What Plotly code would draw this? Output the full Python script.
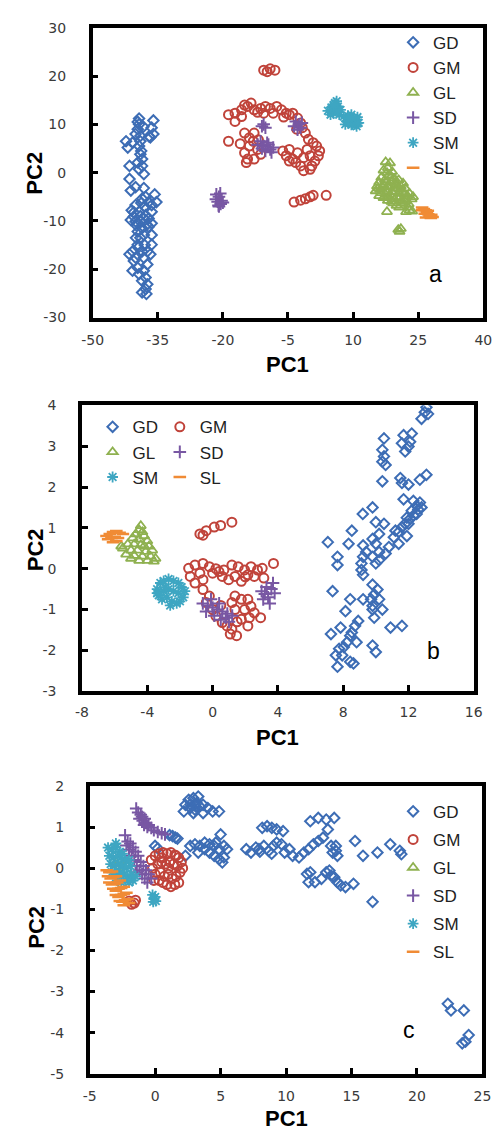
import plotly.graph_objects as go

# ---------------- data (PC1, PC2) ----------------
SERIES = ["GD", "GM", "GL", "SD", "SM", "SL"]
COLORS = {"GD": "#3d6db5", "GM": "#c0433a", "GL": "#8fb150", "SD": "#7857a3", "SM": "#3ea6c2", "SL": "#f08b35"}
SYMBOLS = {"GD": "diamond-open", "GM": "circle-open", "GL": "triangle-up-open",
           "SD": "cross-thin-open", "SM": "asterisk-open", "SL": "line-ew-open"}

A_GD = [(-39.3, 11.2), (-39.6, 10.5), (-36.0, 10.8), (-36.4, 9.3), (-36.0, 8.0), (-36.7, 7.3), (-39.6, 9.0),
        (-40.1, 8.0), (-39.0, 7.6), (-42.3, 6.5), (-41.9, 5.2), (-40.8, 6.2), (-39.3, 5.5), (-39.0, 3.8),
        (-38.6, 2.8), (-39.6, 2.1), (-38.6, 1.4), (-39.3, 0.7), (-38.2, -0.3), (-41.5, 1.4), (-41.5, -1.3),
        (-41.2, -3.7), (-40.1, -3.0), (-38.2, -3.2), (-37.8, -5.0), (-38.6, -5.4), (-37.1, -6.1), (-36.4, -6.7),
        (-35.3, -6.1), (-40.1, -6.7), (-39.3, -8.1), (-40.5, -9.1), (-41.2, -9.8), (-40.1, -10.1), (-39.0, -10.1),
        (-38.2, -9.5), (-37.1, -9.5), (-36.4, -8.1), (-37.8, -8.8), (-36.4, -10.5), (-37.1, -11.2), (-38.6, -11.5),
        (-39.6, -12.2), (-38.2, -12.9), (-36.4, -12.9), (-36.4, -14.9), (-39.0, -13.5), (-39.6, -14.9),
        (-38.6, -16.3), (-40.8, -16.3), (-41.5, -16.9), (-40.5, -18.3), (-39.6, -19.7), (-40.8, -20.3),
        (-39.3, -21.0), (-38.2, -20.3), (-37.4, -19.0), (-38.6, -22.4), (-37.8, -21.7), (-37.4, -23.1),
        (-37.8, -24.1), (-38.6, -24.8), (-37.6, -25.1), (-38.2, -17.6), (-40.1, -17.6), (-36.7, -16.9),
        (-37.4, -16.3), (-39.0, -9.0), (-38.0, -7.0), (-40.5, -8.2), (-37.5, -10.8), (-39.8, -11.0), (-38.8, -6.3),
        (-39.5, -15.5), (-38.0, -15.0), (-40.0, -13.5), (-38.8, 4.5), (-39.0, 6.5), (-38.3, 9.5), (-35.7, -4.5),
        (-41.0, -7.8), (-39.3, 10.0), (-37.0, 7.5)]
A_GM = [(-10.6, 21.2), (-9.1, 21.5), (-8.0, 21.2), (-9.8, 20.9),
        (-18.7, 12.0), (-17.2, 12.3), (-15.7, 13.0), (-14.3, 13.7), (-13.5, 14.4), (-15.0, 14.0), (-12.8, 13.0),
        (-11.3, 13.3), (-10.2, 13.7), (-9.1, 13.3), (-7.6, 13.7), (-6.5, 13.0), (-5.4, 12.3), (-4.7, 12.0),
        (-3.9, 12.3), (-2.8, 11.3), (-2.1, 10.3), (-1.7, 9.3), (-1.0, 8.2), (-0.3, 6.9), (0.8, 6.2), (1.6, 5.5),
        (2.3, 4.5), (2.0, 3.5), (1.2, 2.4), (0.5, 1.4), (0.1, 0.7), (-1.4, 0.4), (-2.1, 1.4), (-3.2, 2.1),
        (-3.9, 2.8), (-4.7, 2.4), (-5.4, 3.5), (-6.2, 4.5), (-4.7, 4.8), (-2.8, 4.1), (-0.6, 4.8), (0.1, 3.5),
        (-1.4, 3.1), (-17.2, 10.6), (-15.7, 11.6), (-10.6, 12.3), (-8.4, 12.3), (-12.0, 12.5), (-6.0, 11.5),
        (-3.0, 9.0), (-18.7, 6.5), (-15.0, 8.2), (-13.9, 7.2), (-12.8, 8.2), (-13.9, 5.5), (-15.0, 4.1),
        (-14.3, 2.8), (-14.6, 2.1), (-12.0, 4.8), (-11.3, 3.8), (-10.6, 5.5), (-12.8, 2.8), (-16.0, 6.0),
        (-13.0, 6.5), (-11.8, 6.8), (-3.6, -6.1), (-2.1, -5.7), (-1.0, -5.4), (0.1, -5.0), (0.8, -4.7), (3.8, -4.7)]
A_GL = [(17.5, 2.2), (18.5, 2.0), (18.0, 1.0), (17.0, 0.5), (19.0, 0.2), (18.2, -0.5), (16.5, -1.0), (19.5, -1.2),
        (20.5, -1.5), (17.5, -2.0), (15.5, -2.8), (16.8, -3.0), (18.5, -2.8), (19.8, -2.5), (21.0, -2.8),
        (22.0, -3.2), (15.2, -3.8), (16.5, -4.2), (17.8, -3.8), (19.0, -4.0), (20.5, -4.2), (21.8, -4.5),
        (23.0, -4.3), (18.2, -5.0), (19.5, -5.5), (20.8, -5.2), (22.2, -5.6), (23.5, -5.5), (17.0, -5.2),
        (21.5, -6.3), (20.0, -6.8), (22.8, -6.5), (17.8, -8.1), (22.2, -8.1), (23.0, -7.8), (20.7, -12.2),
        (20.4, -11.8), (21.0, -11.6), (18.8, -1.8), (17.3, -1.5), (20.2, -3.3), (18.8, -6.0),
        (16.0, -2.0), (17.0, -2.5), (18.0, -3.0), (19.3, -3.2), (20.8, -3.5), (21.5, -4.0), (22.5, -4.8),
        (16.2, -3.5), (17.5, -4.5), (18.8, -4.8), (20.0, -5.0), (21.2, -5.8), (22.0, -6.0), (19.2, -6.3),
        (18.0, -5.8), (16.0, -4.8), (23.8, -5.0), (17.8, 0.0), (18.8, -0.8), (19.8, -2.0), (21.5, -2.2),
        (15.8, -3.2), (20.6, -7.2), (23.6, -8.0), (22.6, -7.2)]
A_SD = [(-21.5, -4.5), (-20.9, -5.0), (-21.2, -6.0), (-20.5, -6.5), (-20.9, -7.0), (-21.6, -5.5), (-20.3, -5.8),
        (-20.6, -4.3), (-21.0, -6.8), (-20.0, -6.2), (-10.6, 10.0), (-10.2, 9.3), (-11.0, 9.6), (-11.3, 6.5),
        (-10.6, 5.5), (-9.8, 6.2), (-9.1, 4.8), (-8.4, 5.2), (-10.2, 4.5), (-11.0, 5.0), (-9.5, 5.8), (-8.8, 4.2),
        (-12.0, 5.8), (-3.2, 10.6), (-2.5, 10.0), (-2.1, 9.3), (-3.6, 9.6), (-2.8, 8.9), (-1.8, 10.3)]
A_SM = [(4.2, 12.8), (5.0, 13.5), (5.8, 14.4), (6.5, 13.7), (5.5, 12.3), (6.8, 12.0), (4.8, 12.0), (5.8, 13.0),
        (7.1, 13.0), (6.2, 14.8), (7.8, 11.6), (8.5, 10.6), (9.3, 11.3), (10.0, 10.6), (10.8, 11.0), (11.3, 10.3),
        (9.6, 9.9), (10.8, 9.6), (8.8, 11.8), (8.2, 10.0), (9.6, 12.0), (11.0, 11.5),
        (5.2, 13.0), (6.0, 13.5), (6.5, 12.8), (5.5, 14.0), (9.0, 10.5), (10.2, 11.2), (9.8, 10.0), (10.4, 10.0),
        (11.0, 10.2), (9.0, 11.2)]
A_SL = [(25.9, -7.2), (26.3, -7.5), (26.7, -7.8), (27.0, -8.2), (27.3, -8.6), (27.6, -9.0), (27.9, -9.4),
        (28.3, -9.2), (26.5, -8.5), (27.2, -7.9), (25.9, -7.8), (26.8, -9.3), (28.0, -8.7)]

B_GD = [(13.1, 3.95), (13.2, 3.79), (12.8, 3.67), (13.0, 3.83), (10.5, 3.19), (10.4, 2.91), (10.5, 2.75),
        (10.4, 2.62), (10.6, 2.54), (11.7, 3.27), (12.2, 3.31), (11.6, 3.07), (12.0, 2.99), (11.8, 2.87),
        (12.1, 3.11), (10.4, 2.14), (11.5, 2.22), (11.6, 2.10), (12.0, 2.06), (12.7, 2.18), (13.1, 2.30),
        (11.7, 1.70), (12.3, 1.66), (12.7, 1.62), (12.5, 1.54), (12.2, 1.42), (12.5, 1.34), (12.1, 1.22),
        (12.8, 1.50), (11.8, 1.10), (11.6, 1.02), (11.2, 0.93), (11.1, 0.77), (11.4, 0.61), (10.8, 0.53),
        (10.2, 0.41), (10.0, 0.61), (9.8, 0.73), (9.8, 1.50), (9.2, 1.34), (10.0, 1.14), (10.5, 1.10), (10.2, 0.85),
        (8.53, 0.93), (9.22, 0.57), (9.41, 0.41), (9.80, 0.29), (10.2, 0.21), (10.6, 0.37), (10.0, 0.13),
        (9.22, 0.29), (9.12, 0.13), (9.12, -0.03), (9.22, -0.15), (9.80, -0.39), (10.1, -0.51), (9.90, -0.63),
        (10.2, -0.75), (9.80, -0.91), (9.71, -0.75), (7.06, 0.65), (7.65, 0.29), (7.65, 0.09), (8.33, 0.61),
        (7.35, -0.55), (8.43, -0.75), (8.14, -1.04), (9.22, -0.75), (9.80, -1.00), (10.4, -1.00), (10.9, -1.44),
        (11.6, -1.40), (9.90, -1.20), (9.80, -1.88), (10.0, -2.04), (8.92, -1.28), (8.73, -1.40), (8.53, -1.56),
        (8.43, -1.64), (8.24, -1.80), (7.75, -1.96), (8.04, -1.92), (7.55, -2.12), (7.65, -2.40), (8.43, -2.28),
        (8.63, -2.32), (7.25, -1.60), (7.84, -1.44), (8.82, -1.80), (7.94, -2.12), (12.3, 1.3), (12.0, 1.1),
        (11.9, 1.25), (12.6, 1.45), (11.4, 0.9), (11.9, 0.8)]
B_GM = [(-0.78, 0.85), (-0.59, 0.82), (-0.39, 0.93), (0.10, 1.02), (0.49, 1.06), (1.18, 1.14),
        (-1.47, 0.01), (-1.08, 0.09), (-0.59, 0.13), (-0.20, 0.05), (-1.37, -0.19), (-0.78, -0.11), (0.0, -0.11),
        (0.39, -0.07), (0.69, -0.03), (1.18, 0.09), (1.57, 0.05), (1.96, -0.03), (2.35, 0.05), (2.75, -0.03),
        (3.04, 0.01), (3.73, 0.13), (0.59, -0.19), (1.37, -0.19), (2.16, -0.15), (2.55, -0.19), (3.14, -0.23),
        (-1.08, -0.35), (-0.59, -0.27), (0.98, -0.27), (1.76, -0.31), (0.2, 0.0), (2.0, -0.2),
        (-0.59, -0.51), (-0.20, -0.67), (-0.39, -0.83), (0.0, -1.00), (0.20, -1.16), (0.59, -1.32), (0.88, -1.40),
        (1.18, -1.48), (1.47, -1.64), (1.08, -1.60), (1.76, -1.24), (1.37, -1.00), (1.18, -0.83), (1.76, -0.75),
        (2.16, -0.75), (2.35, -0.92), (2.55, -1.08), (1.96, -1.00), (2.25, -1.20), (2.94, -1.20), (2.16, -1.40),
        (1.37, -0.67), (0.5, -0.9), (1.5, -1.3)]
B_GL = [(-4.4, 1.05), (-4.5, 0.95), (-4.3, 0.9), (-4.7, 0.85), (-4.2, 0.8), (-4.9, 0.75), (-4.5, 0.72), (-4.0, 0.68),
        (-5.2, 0.6), (-4.8, 0.6), (-4.4, 0.58), (-3.9, 0.55), (-5.5, 0.5), (-5.0, 0.45), (-4.6, 0.45), (-4.1, 0.42),
        (-3.7, 0.45), (-5.3, 0.35), (-4.8, 0.32), (-4.3, 0.3), (-3.8, 0.3), (-3.5, 0.25), (-5.0, 0.25), (-4.5, 0.2),
        (-4.0, 0.2), (-3.6, 0.18), (-5.6, 0.55), (-4.2, 0.55)]
B_SD = [(-0.6, -0.85), (-0.3, -0.9), (0.0, -0.95), (0.3, -1.0), (0.6, -1.05), (0.9, -1.1), (1.2, -1.15),
        (-0.4, -1.05), (0.1, -1.15), (0.5, -1.25), (0.8, -1.2), (-0.1, -0.75), (0.4, -0.85), (1.0, -1.3),
        (3.0, -0.55), (3.3, -0.45), (3.6, -0.5), (3.8, -0.6), (3.4, -0.7), (3.1, -0.75), (3.5, -0.85), (3.7, -0.35),
        (3.2, -0.62)]
B_SM = [(-3.4, -0.5), (-3.2, -0.35), (-3.0, -0.3), (-2.7, -0.25), (-2.4, -0.3), (-2.1, -0.35), (-1.9, -0.45),
        (-1.7, -0.55), (-3.3, -0.65), (-3.0, -0.55), (-2.7, -0.5), (-2.4, -0.55), (-2.1, -0.6), (-1.8, -0.7),
        (-3.1, -0.75), (-2.8, -0.7), (-2.5, -0.8), (-2.2, -0.85), (-2.6, -0.9), (-2.0, -0.8), (-3.4, -0.6),
        (-2.9, -0.45)]
B_SL = [(-6.5, 0.8), (-6.3, 0.85), (-6.1, 0.9), (-5.9, 0.92), (-5.7, 0.88), (-5.5, 0.85), (-6.4, 0.72), (-6.2, 0.75),
        (-6.0, 0.78), (-5.8, 0.75), (-6.1, 0.65), (-5.9, 0.68)]

C_GD = [(2.56, 1.66), (2.92, 1.70), (3.17, 1.58), (2.68, 1.46), (2.31, 1.54), (3.04, 1.42), (3.41, 1.50), (3.66, 1.54),
        (4.02, 1.46), (4.39, 1.38), (4.88, 1.38), (2.19, 1.38), (3.29, 1.74), (2.92, 1.34), (3.66, 1.34), (2.7, 1.55),
        (3.1, 1.5), (1.1, 0.8), (1.33, 0.78), (1.55, 0.74), (1.7, 0.72), (5.0, 0.82), (-0.01, 0.54), (0.2, 0.48),
        (2.31, 0.30), (2.68, 0.54), (3.04, 0.58), (3.41, 0.54), (3.78, 0.62), (4.15, 0.58), (4.51, 0.54), (4.88, 0.46),
        (5.25, 0.54), (5.49, 0.46), (4.15, 0.38), (4.51, 0.30), (4.88, 0.22), (5.13, 0.14), (5.25, 0.26), (3.29, 0.38),
        (3.78, 0.46), (4.63, 0.62), (6.96, 0.46), (7.32, 0.38), (7.69, 0.50), (7.93, 0.46), (8.30, 0.54), (8.67, 0.42),
        (9.03, 0.54), (9.28, 0.62), (9.65, 0.58), (9.89, 0.38), (10.26, 0.46), (10.50, 0.30), (10.99, 0.26),
        (11.36, 0.38), (11.72, 0.46), (12.09, 0.58), (12.46, 0.66), (12.82, 0.74), (13.44, 0.54), (13.56, 0.38),
        (13.80, 0.42), (13.92, 0.30), (13.80, 0.54), (8.0, 0.4), (8.9, 0.35), (8.18, 0.98), (8.55, 1.02),
        (8.91, 0.98), (9.28, 0.94), (9.77, 0.90), (11.85, 1.14), (12.46, 1.22), (13.07, 1.18), (13.68, 1.22),
        (13.19, 0.94), (11.6, -0.14), (11.72, -0.34), (12.21, -0.34), (12.70, -0.26), (13.07, -0.10), (13.31, -0.06),
        (13.44, -0.18), (13.68, -0.22), (13.92, -0.34), (14.17, -0.42), (14.54, -0.46), (15.15, -0.38),
        (11.85, -0.10), (15.27, 0.66), (15.88, 0.30), (16.98, 0.38), (17.96, 0.58), (18.69, 0.42), (18.81, 0.34),
        (16.61, -0.82), (22.36, -3.30), (22.6, -3.46), (23.58, -3.46), (23.95, -4.06), (23.46, -4.26), (23.7, -4.22)]
C_GM = [(-0.3, 0.2), (0.0, 0.3), (0.3, 0.35), (0.6, 0.38), (0.9, 0.35), (1.2, 0.38), (1.5, 0.32), (1.8, 0.25),
        (2.0, 0.15), (-0.2, 0.0), (0.2, 0.1), (0.5, 0.15), (0.8, 0.1), (1.1, 0.15), (1.4, 0.1), (1.7, 0.05), (2.1, 0.0),
        (0.0, -0.15), (0.4, -0.1), (0.7, -0.2), (1.0, -0.15), (1.3, -0.25), (1.6, -0.2), (1.9, -0.1), (0.3, -0.3),
        (0.6, -0.35), (0.9, -0.4), (1.2, -0.45), (1.5, -0.4), (1.8, -0.35), (-0.1, -0.3), (1.0, 0.0), (0.5, 0.25),
        (1.6, 0.3), (-2.0, -0.8), (-1.8, -0.88), (-1.6, -0.85), (-1.5, -0.78)]
C_GL = [(-3.0, 0.0), (-2.6, -0.1), (-2.2, 0.1), (-2.8, 0.2)]
C_SD = [(-1.45, 1.45), (-1.3, 1.35), (-1.1, 1.3), (-1.2, 1.2), (-0.95, 1.15), (-0.8, 1.2), (-0.7, 1.1), (-0.5, 1.05),
        (-0.85, 1.05), (-0.3, 0.98), (-0.1, 0.92), (0.2, 0.88), (0.5, 0.85), (0.75, 0.82), (-1.0, 1.25), (-0.6, 1.0),
        (-2.3, 0.8), (-2.1, 0.65), (-1.9, 0.6), (-1.7, 0.5), (-2.0, 0.45), (-1.5, 0.4), (-1.8, 0.3), (-1.3, 0.3),
        (-1.6, 0.2), (-1.1, 0.15), (-1.4, 0.05), (-0.9, 0.05), (-1.2, -0.05), (-0.7, -0.05), (-1.0, -0.15),
        (-0.5, -0.15), (-0.8, -0.25), (-0.3, -0.25), (-0.6, -0.35), (-1.5, -0.1), (-2.2, 0.55)]
C_SM = [(-3.6, 0.5), (-3.3, 0.45), (-3.0, 0.5), (-2.7, 0.4), (-3.5, 0.3), (-3.2, 0.25), (-2.9, 0.3), (-2.6, 0.25),
        (-2.3, 0.2), (-3.4, 0.1), (-3.1, 0.05), (-2.8, 0.1), (-2.5, 0.05), (-2.2, 0.0), (-1.9, 0.05), (-3.3, -0.1),
        (-3.0, -0.15), (-2.7, -0.1), (-2.4, -0.15), (-2.1, -0.2), (-1.8, -0.15), (-2.9, -0.3), (-2.6, -0.35),
        (-2.3, -0.3), (-2.0, -0.35), (-1.7, -0.3), (-1.5, -0.2), (-2.5, 0.35), (-3.0, 0.6), (-2.0, 0.2),
        (-0.2, -0.65), (-0.1, -0.75), (0.0, -0.7), (-0.15, -0.82), (0.05, -0.8)]
C_SL = [(-3.7, -0.05), (-3.5, -0.1), (-3.3, -0.08), (-3.6, -0.2), (-3.4, -0.25), (-3.2, -0.22), (-3.0, -0.2),
        (-3.5, -0.35), (-3.3, -0.4), (-3.1, -0.38), (-2.9, -0.35), (-2.7, -0.3), (-3.2, -0.5), (-3.0, -0.55),
        (-2.8, -0.5), (-2.6, -0.48), (-2.4, -0.45), (-3.0, -0.65), (-2.8, -0.7), (-2.6, -0.65), (-2.4, -0.62),
        (-2.2, -0.6), (-2.7, -0.8), (-2.5, -0.82), (-2.3, -0.78), (-2.1, -0.75), (-2.0, -0.85), (-2.4, -0.9)]

# tick labels
A_XTICKS = [-50, -35, -20, -5, 10, 25, 40]
A_YTICKS = [-30, -20, -10, 0, 10, 20, 30]
B_XTICKS = [-8, -4, 0, 4, 8, 12, 16]
B_YTICKS = [-3, -2, -1, 0, 1, 2, 3, 4]
C_XTICKS = [-5, 0, 5, 10, 15, 20, 25]
C_YTICKS = [-5, -4, -3, -2, -1, 0, 1, 2]

PANELS = [
    dict(data=dict(GD=A_GD, GM=A_GM, GL=A_GL, SD=A_SD, SM=A_SM, SL=A_SL), xr=[-50, 40], yr=[-30, 30],
         xt=A_XTICKS, yt=A_YTICKS, label="a"),
    dict(data=dict(GD=B_GD, GM=B_GM, GL=B_GL, SD=B_SD, SM=B_SM, SL=B_SL), xr=[-8, 16], yr=[-3, 4],
         xt=B_XTICKS, yt=B_YTICKS, label="b"),
    dict(data=dict(GD=C_GD, GM=C_GM, GL=C_GL, SD=C_SD, SM=C_SM, SL=C_SL), xr=[-5, 25], yr=[-5, 2],
         xt=C_XTICKS, yt=C_YTICKS, label="c"),
]

# ---------------- layout geometry (pixels) ----------------
W, H = 501, 1136
BOXES = [(85, 492, 20, 314), (74, 482, 403, 693), (82, 491, 789, 1081)]  # left, right, top, bottom
X_STANDOFF = [7, 5, 7]
Y_STANDOFF = [20, 19, 19]


def px(x):
    return x / W


def py(y):
    return 1 - y / H


def lab(v):
    return str(v)


fig = go.Figure()
legend_of = [
    {s: "legend" for s in SERIES},
    {"GD": "legend2", "GL": "legend2", "SM": "legend2", "GM": "legend3", "SD": "legend3", "SL": "legend3"},
    {s: "legend4" for s in SERIES},
]
SIZES = {"GD": 8, "GM": 9, "GL": 9, "SD": 9, "SM": 9, "SL": 9}
LW = {"GD": 2, "GM": 2, "GL": 1.8, "SD": 2, "SM": 1.8, "SL": 2.5}

for i, p in enumerate(PANELS):
    sfx = "" if i == 0 else str(i + 1)
    for s in SERIES:
        pts = p["data"][s]
        fig.add_trace(go.Scatter(
            x=[q[0] for q in pts], y=[q[1] for q in pts], mode="markers", name=s,
            xaxis="x" + sfx, yaxis="y" + sfx, legend=legend_of[i][s],
            marker=dict(symbol=SYMBOLS[s], size=SIZES[s], color=COLORS[s],
                        line=dict(width=LW[s], color=COLORS[s])),
            showlegend=True, legendgroup=s + str(i)))
    l, r, t, b = BOXES[i]
    axcommon = dict(showgrid=False, zeroline=False, showline=True, linewidth=3.5, linecolor="black", mirror=True,
                    ticks="inside", ticklen=6, tickwidth=3, tickcolor="black",
                    tickfont=dict(family="DejaVu Sans", size=14, color="#3a3a3a"))
    fig.layout["xaxis" + sfx] = dict(axcommon, domain=[px(l), px(r)], range=p["xr"], tickvals=p["xt"],
                                     ticktext=[lab(v) for v in p["xt"]], anchor="y" + sfx,
                                     ticklabelstandoff=X_STANDOFF[i])
    fig.layout["yaxis" + sfx] = dict(axcommon, domain=[py(b), py(t)], range=p["yr"], tickvals=p["yt"],
                                     ticktext=[lab(v) for v in p["yt"]], anchor="x" + sfx,
                                     ticklabelstandoff=Y_STANDOFF[i])

# axis titles and panel labels
TITLE_FONT = dict(family="Liberation Sans, Arial", size=22, color="black")
X_TITLES_Y = [362, 740, 1126]
Y_TITLES = [(25, 168), (25, 550), (27, 932)]
PANEL_LABELS = [(442, 270), (440, 652), (415, 1037)]
for i, p in enumerate(PANELS):
    l, r, t, b = BOXES[i]
    fig.add_annotation(text="<b>PC1</b>", x=px((l + r) / 2), y=py(X_TITLES_Y[i]), xref="paper", yref="paper",
                       showarrow=False, font=TITLE_FONT, xanchor="center", yanchor="middle")
    fig.add_annotation(text="<b>PC2</b>", x=px(Y_TITLES[i][0]), y=py(Y_TITLES[i][1]), xref="paper", yref="paper",
                       showarrow=False, font=TITLE_FONT, textangle=-90, xanchor="center", yanchor="middle")
    fig.add_annotation(text=p["label"], x=px(PANEL_LABELS[i][0]), y=py(PANEL_LABELS[i][1]), xref="paper",
                       yref="paper", showarrow=False, font=dict(family="Liberation Sans, Arial", size=23,
                                                                color="black"),
                       xanchor="center", yanchor="middle")

LEG_FONT = dict(family="Liberation Sans, Arial", size=17, color="#222")
legcommon = dict(font=LEG_FONT, bgcolor="rgba(0,0,0,0)", borderwidth=0, xanchor="left", yanchor="top",
                 traceorder="grouped", itemclick=False, itemdoubleclick=False)
fig.update_layout(
    width=W, height=H, margin=dict(l=0, r=0, t=0, b=0), paper_bgcolor="white", plot_bgcolor="white",
    legend=dict(legcommon, x=px(398), y=py(17), tracegroupgap=0),
    legend2=dict(legcommon, x=px(85), y=py(407), tracegroupgap=0),
    legend3=dict(legcommon, x=px(155), y=py(407), tracegroupgap=0),
    legend4=dict(legcommon, x=px(398), y=py(797), tracegroupgap=3),
)

fig.write_html("out.html")
